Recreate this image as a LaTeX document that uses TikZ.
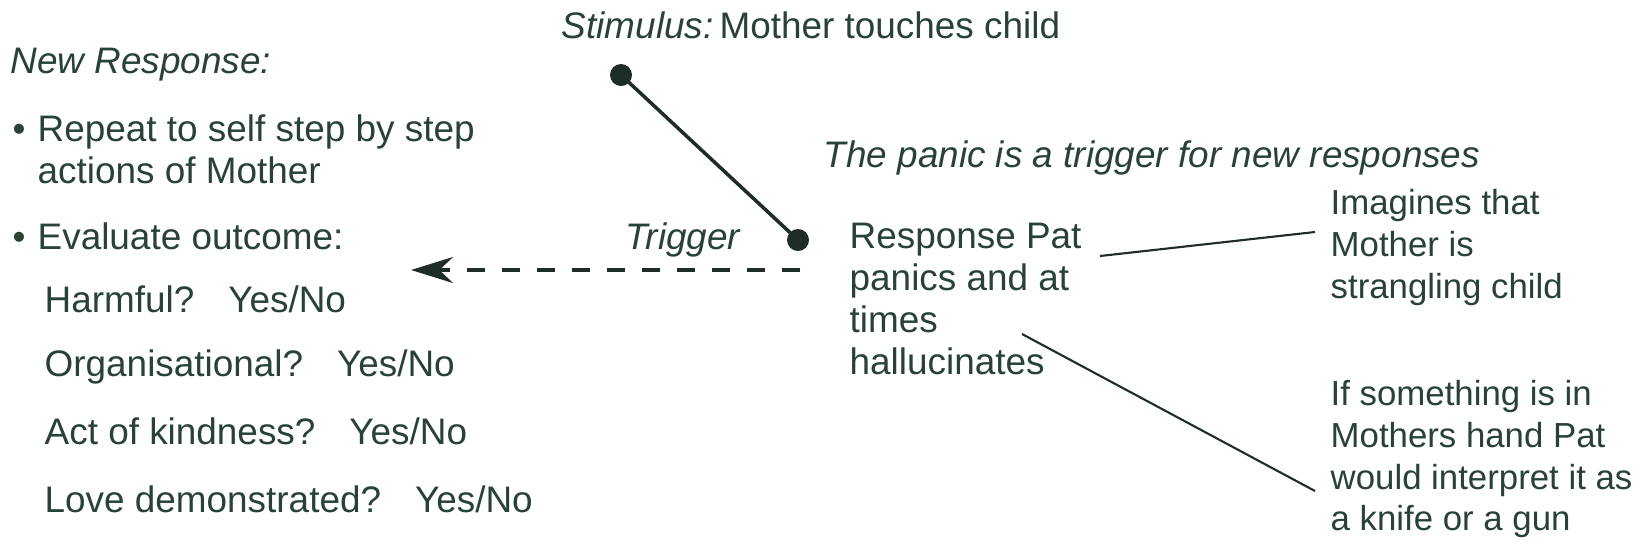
\documentclass[tikz,border=0pt]{standalone}
\usepackage{fontspec}
\setmainfont{Liberation Sans}
\usetikzlibrary{arrows.meta}

\definecolor{ink}{RGB}{40,66,54}
\definecolor{wire}{RGB}{30,45,40}

\tikzset{
    txt/.style={inner sep=0pt, text=ink, font=\fontsize{10.5}{11.9}\selectfont},
    multi/.style={txt, align=left, anchor=north west},
    side/.style={multi, font=\fontsize{9.9}{11.9}\selectfont},
    dot/.style={circle, fill=wire, inner sep=0pt, minimum size=0.22cm},
    wirelink/.style={draw=wire, line width=0.6pt},
}

\begin{document}
\begin{tikzpicture}
\useasboundingbox (0,0) rectangle (16.39,5.50);

% Stimulus and trigger
\node[txt, anchor=base west] (stimtxt) at (5.61,5.12) {\textit{Stimulus:}\,Mother touches child};
\node[dot] (S) at (6.21,4.75) {};
\node[dot] (T) at (7.98,3.10) {};
\draw[wirelink, line width=1pt] (S.center) -- (T.center);
\node[txt, anchor=base east] (trigtxt) at (7.42,3.01) {\textit{Trigger}};

% Dashed arrow back to the new response
\coordinate (dashstart) at (8.00,2.80);
\coordinate (dashend) at (4.11,2.80);
\draw[wirelink, line width=0.9pt, dash pattern=on 0.18cm off 0.17cm, -{Stealth[length=0.42cm, width=0.26cm]}] (dashstart) -- (dashend);

% New response list
\node[txt, anchor=base west] (newresp) at (0.10,4.77) {\textit{New Response:}};
\node[txt, anchor=base west] (b1) at (0.12,4.09) {•};
\node[multi] (repeat) at (0.37,4.355) {Repeat to self step by step\\actions of Mother};
\node[txt, anchor=base west] (b2) at (0.12,3.01) {•};
\node[txt, anchor=base west] (evaluate) at (0.37,3.01) {Evaluate outcome:};
\node[txt, anchor=base west] (harm) at (0.44,2.38) {Harmful?\hspace{0.55em} Yes/No};
\node[txt, anchor=base west] (org) at (0.44,1.74) {Organisational?\hspace{0.55em} Yes/No};
\node[txt, anchor=base west] (kind) at (0.44,1.06) {Act of kindness?\hspace{0.55em} Yes/No};
\node[txt, anchor=base west] (love) at (0.44,0.38) {Love demonstrated?\hspace{0.55em} Yes/No};

% Panic response and what Pat imagines
\node[txt, anchor=base west] (panic) at (8.23,3.83) {\textit{The panic is a trigger for new responses}};
\node[multi] (resp) at (8.49,3.275) {Response Pat\\panics and at\\times\\hallucinates};
\node[side] (imag) at (13.30,3.615) {Imagines that\\Mother is\\strangling child};
\node[side] (knife) at (13.30,1.705) {If something is in\\Mothers hand Pat\\would interpret it as\\a knife or a gun};

\coordinate (r1) at (11.00,2.94);
\coordinate (i1) at (13.15,3.18);
\coordinate (r2) at (10.22,2.16);
\coordinate (k1) at (13.15,0.59);
\draw[wirelink] (r1) -- (i1);
\draw[wirelink] (r2) -- (k1);

\end{tikzpicture}
\end{document}
